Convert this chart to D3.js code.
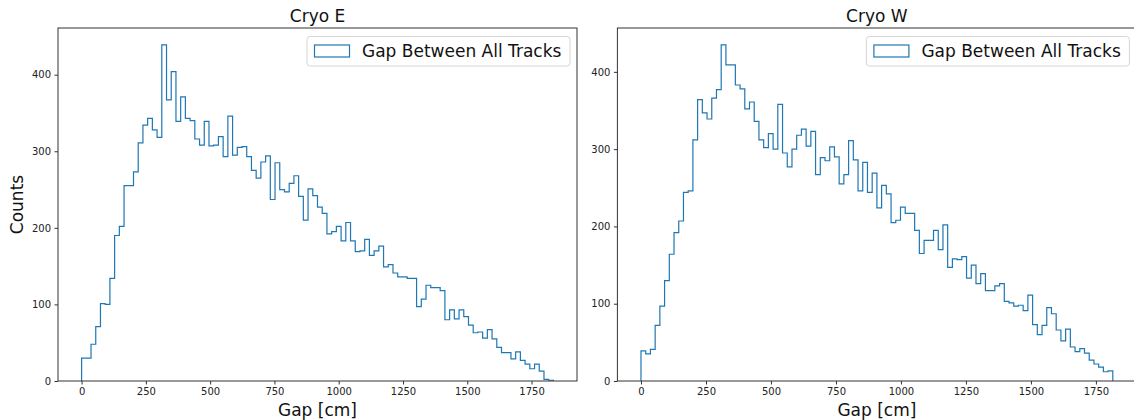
<!DOCTYPE html>
<html>
<head>
<meta charset="utf-8">
<script src="https://cdn.jsdelivr.net/npm/d3@7"></script>
<style>
    body { margin: 0; background: #fff; }
    svg { font-family: "DejaVu Sans", sans-serif; }
</style>
</head>
<body>
<svg id="chart" width="1134" height="420"></svg>
<script>
// counts per bin (100 equal bins from 0 to max gap)
const cryoECounts = [30, 30, 48, 71, 101, 100, 134, 190, 202, 255,
    255, 273, 311, 334, 343, 328, 318, 439, 367, 404,
    339, 371, 343, 340, 316, 308, 339, 307, 308, 319,
    293, 346, 295, 305, 306, 293, 275, 265, 286, 294,
    237, 285, 250, 247, 258, 268, 241, 210, 251, 242,
    227, 219, 192, 195, 202, 183, 207, 183, 169, 170,
    185, 164, 170, 176, 149, 152, 141, 136, 136, 134,
    134, 97, 107, 125, 122, 122, 118, 80, 93, 81,
    93, 84, 73, 63, 64, 56, 67, 55, 44, 37,
    37, 29, 38, 27, 22, 16, 22, 13, 2, 1];

const cryoWCounts = [39, 35, 41, 72, 97, 130, 164, 192, 207, 244,
    246, 312, 364, 347, 339, 366, 377, 435, 409, 409,
    383, 378, 352, 361, 336, 312, 302, 320, 300, 358,
    295, 277, 300, 318, 326, 304, 323, 267, 289, 285,
    303, 290, 255, 267, 311, 286, 246, 283, 244, 269,
    224, 253, 242, 205, 208, 225, 217, 217, 195, 165,
    182, 182, 195, 170, 202, 147, 158, 157, 161, 133,
    150, 126, 139, 117, 117, 123, 126, 103, 101, 97,
    98, 91, 111, 73, 60, 72, 95, 87, 66, 52,
    67, 44, 38, 42, 36, 27, 22, 18, 12, 13];

const cryoEMax = 1835;
const cryoWMax = 1815;
const xTicks = [0, 250, 500, 750, 1000, 1250, 1500, 1750];
const yTicks = [0, 100, 200, 300, 400];
const legendLabel = "Gap Between All Tracks";

const lineColor = "#1f77b4";

document.addEventListener('DOMContentLoaded', function () {
    var svg = d3.select("#chart");
    plotHist(svg, { left: 58, top: 28, width: 519, height: 353 }, cryoECounts, cryoEMax, "Cryo E", true);
    plotHist(svg, { left: 617.4, top: 28, width: 519, height: 353 }, cryoWCounts, cryoWMax, "Cryo W", false);
});

function plotHist(svg, box, counts, maxGap, title, showYLabel) {
    var g = svg.append("g")
        .attr("transform", `translate(${box.left}, ${box.top})`);

    var xScale = d3.scaleLinear()
        .domain([-0.05 * maxGap, 1.05 * maxGap])
        .range([0, box.width]);

    var yScale = d3.scaleLinear()
        .domain([0, 1.05 * d3.max(counts)])
        .range([box.height, 0]);

    // step outline like histtype='step'
    var binWidth = maxGap / counts.length;
    var pts = [[0, 0]];
    counts.forEach(function (c, i) {
        pts.push([i * binWidth, c]);
        pts.push([(i + 1) * binWidth, c]);
    });
    pts.push([maxGap, 0]);

    var line = d3.line()
        .x(d => xScale(d[0]))
        .y(d => yScale(d[1]));

    g.append("path")
        .datum(pts)
        .attr("d", line)
        .attr("fill", "none")
        .attr("stroke", lineColor)
        .attr("stroke-width", 1.2)
        .attr("stroke-linejoin", "miter");

    // axes
    var xAxis = g.append("g")
        .attr("transform", `translate(0, ${box.height})`)
        .call(d3.axisBottom(xScale).tickValues(xTicks).tickFormat(d3.format("d"))
            .tickSize(3.5).tickPadding(3.5).tickSizeOuter(0));

    var yAxis = g.append("g")
        .call(d3.axisLeft(yScale).tickValues(yTicks).tickFormat(d3.format("d"))
            .tickSize(3.5).tickPadding(3.5).tickSizeOuter(0));

    [xAxis, yAxis].forEach(function (a) {
        a.select(".domain").remove();
        a.selectAll("line").attr("stroke", "#333");
        a.selectAll("text")
            .attr("fill", "#222")
            .style("font-size", "10px")
            .style("font-family", "DejaVu Sans");
    });

    // frame
    g.append("rect")
        .attr("x", 0)
        .attr("y", 0)
        .attr("width", box.width)
        .attr("height", box.height)
        .attr("fill", "none")
        .attr("stroke", "#333")
        .attr("stroke-width", 1);

    // title
    g.append("text")
        .attr("x", box.width / 2)
        .attr("y", -6)
        .attr("text-anchor", "middle")
        .style("font-size", "17px")
        .attr("fill", "#111")
        .text(title);

    // x label
    g.append("text")
        .attr("x", box.width / 2)
        .attr("y", box.height + 35)
        .attr("text-anchor", "middle")
        .style("font-size", "17px")
        .attr("fill", "#111")
        .text("Gap [cm]");

    if (showYLabel) {
        g.append("text")
            .attr("transform", `translate(${-35}, ${box.height / 2}) rotate(-90)`)
            .attr("text-anchor", "middle")
            .style("font-size", "17px")
            .attr("fill", "#111")
            .text("Counts");
    }

    // legend, upper right
    var legW = 263, legH = 29.5;
    var leg = g.append("g")
        .attr("transform", `translate(${box.width - 7 - legW}, ${8.5})`);

    leg.append("rect")
        .attr("width", legW)
        .attr("height", legH)
        .attr("rx", 3)
        .attr("fill", "white")
        .attr("fill-opacity", 0.8)
        .attr("stroke", "#d6d6d6")
        .attr("stroke-width", 1);

    leg.append("rect")
        .attr("x", 7.5)
        .attr("y", 8.5)
        .attr("width", 35)
        .attr("height", 12)
        .attr("fill", "none")
        .attr("stroke", lineColor)
        .attr("stroke-width", 1.2);

    leg.append("text")
        .attr("x", 55)
        .attr("y", 20.5)
        .style("font-size", "17px")
        .attr("fill", "#111")
        .text(legendLabel);
}
</script>
</body>
</html>
